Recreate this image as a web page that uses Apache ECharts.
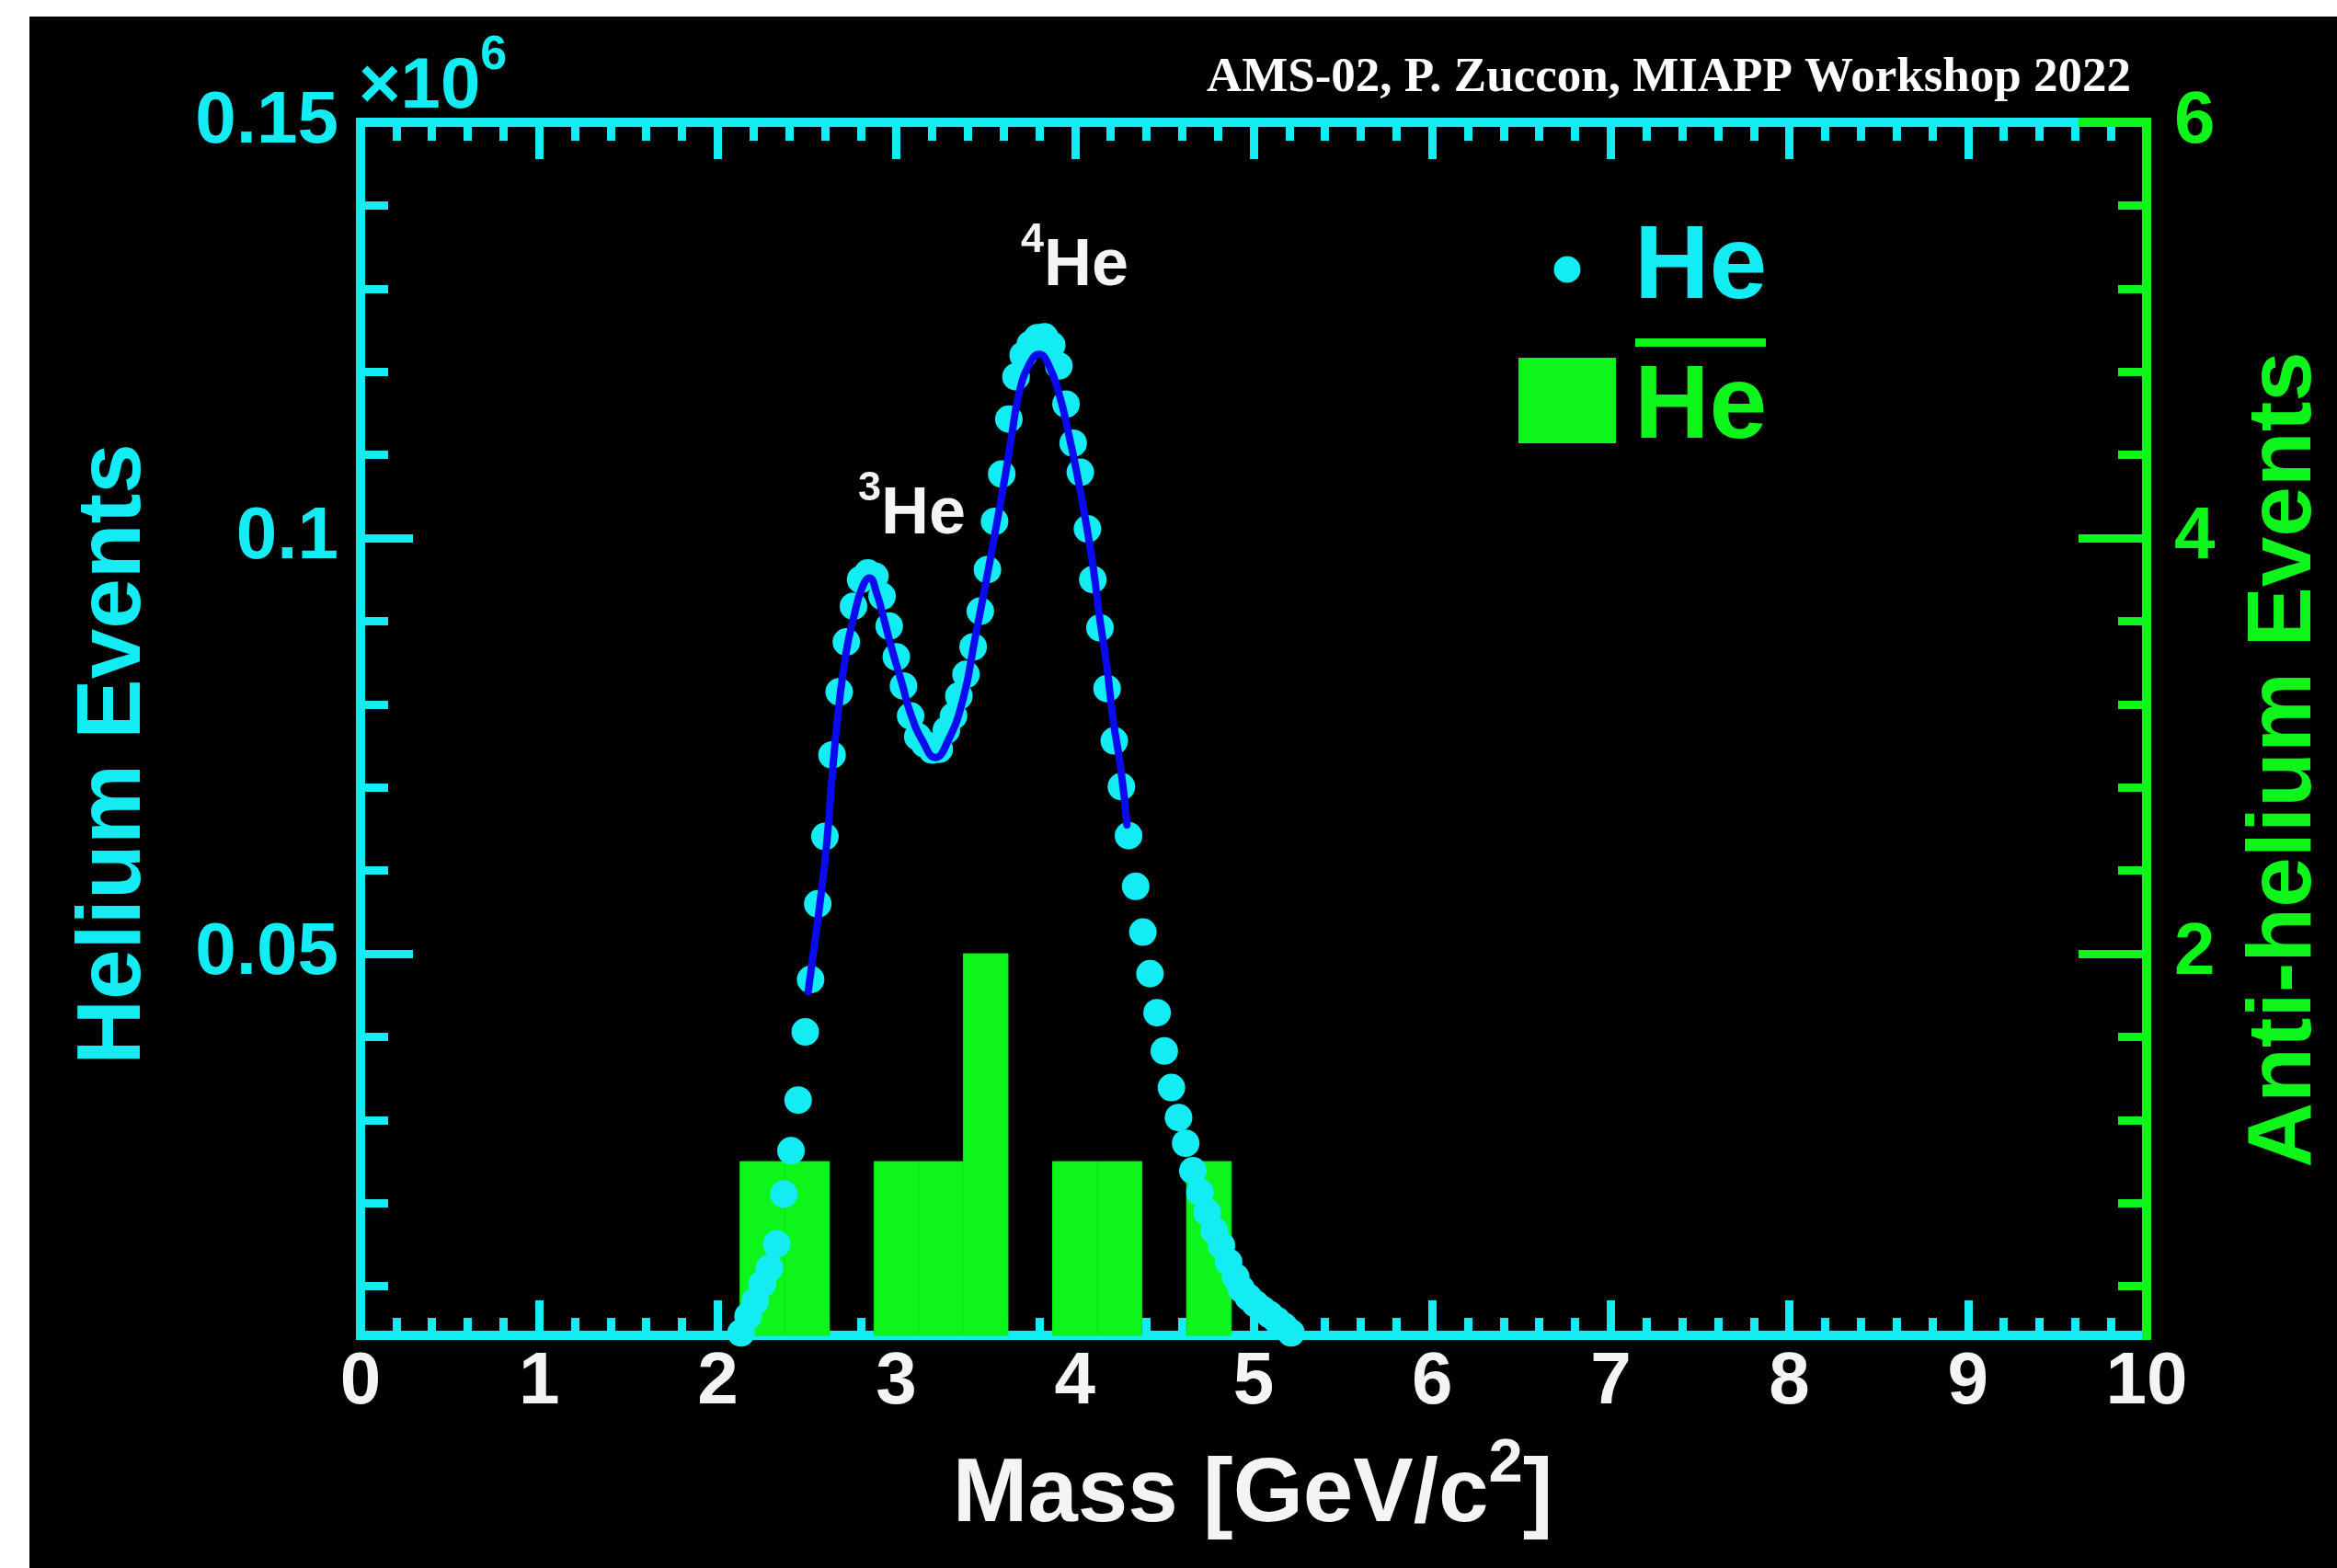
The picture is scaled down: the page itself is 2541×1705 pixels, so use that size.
<!DOCTYPE html>
<html>
<head>
<meta charset="utf-8">
<script src="https://cdn.jsdelivr.net/npm/echarts@6/dist/echarts.min.js"></script>
<style>
  html, body { margin: 0; padding: 0; background: #fff; width: 2541px; height: 1705px; overflow: hidden; }
  #chart { position: absolute; left: 32px; top: 18px; width: 2509px; height: 1687px; background: #000; }
</style>
</head>
<body>
<div id="chart"></div>
<script>
// Helium candidates: reconstructed mass bin centres [GeV/c^2] and counts per bin
const heMass = [
  2.13, 2.17, 2.21, 2.25, 2.29, 2.33, 2.37, 2.41, 2.45, 2.49,
  2.52, 2.56, 2.60, 2.64, 2.68, 2.72, 2.76, 2.80, 2.84, 2.88,
  2.92, 2.96, 3.00, 3.04, 3.08, 3.12, 3.16, 3.20, 3.24, 3.28,
  3.32, 3.35, 3.39, 3.43, 3.47, 3.51, 3.55, 3.59, 3.63, 3.67,
  3.71, 3.75, 3.79, 3.83, 3.87, 3.91, 3.95, 3.99, 4.03, 4.07,
  4.10, 4.14, 4.18, 4.22, 4.26, 4.30, 4.34, 4.38, 4.42, 4.46,
  4.50, 4.54, 4.58, 4.62, 4.66, 4.70, 4.74, 4.78, 4.82, 4.86,
  4.90, 4.93, 4.97, 5.01, 5.05, 5.09, 5.13, 5.17, 5.21
];
const heCounts = [
  4400, 6400, 8200, 10300, 12200, 15100, 21100, 26300, 32400, 40600,
  46900, 56000, 64100, 73900, 81500, 87500, 91800, 95000, 95800, 95400,
  93000, 89400, 85700, 82200, 78600, 76100, 75200, 74500, 74600, 76900,
  78600, 81000, 83600, 86900, 91200, 96200, 102000, 107700, 114300, 119400,
  122000, 123300, 124100, 124200, 123200, 120700, 116100, 111400, 107900, 101100,
  95000, 89200, 81900, 75600, 70100, 64200, 58100, 52600, 47600, 42900,
  38300, 33900, 30300, 27200, 23900, 21300, 18900, 16700, 14900, 12900,
  11100, 9700, 8700, 7900, 7200, 6600, 5900, 5200, 4400
];

// Two-peak fit (3He + 4He) over the central region
const fitMass = [
  2.506, 2.536, 2.566, 2.609, 2.643, 2.678, 2.720, 2.763, 2.806, 2.849,
  2.892, 2.926, 2.978, 3.029, 3.081, 3.149, 3.218, 3.287, 3.373, 3.441,
  3.500, 3.560, 3.616, 3.647, 3.685, 3.742, 3.800, 3.853, 3.913, 3.965,
  4.008, 4.059, 4.102, 4.137, 4.180, 4.214, 4.257, 4.291
];
const fitCounts = [
  45400, 50200, 55000, 63000, 72000, 79700, 86400, 90600, 93900, 95200,
  93200, 90600, 86400, 82700, 78800, 75500, 73600, 75500, 80600, 88000,
  94500, 101500, 108300, 112500, 117200, 120800, 122100, 120800, 117200, 112500,
  108100, 102200, 96500, 90600, 84300, 78100, 72200, 65500
];

// Anti-helium candidates: bin edges [GeV/c^2] and event counts
const antiLow    = [2.125, 2.375, 2.875, 3.125, 3.375, 3.875, 4.125, 4.625];
const antiHigh   = [2.375, 2.625, 3.125, 3.375, 3.625, 4.125, 4.375, 4.875];
const antiCounts = [1, 1, 1, 1, 2, 1, 1, 1];

// Axis ranges and tick positions
const massRange = [0, 10];
const heRange = [4100, 150000];            // events (labels shown in units of 10^6)
const antiRange = [0.164, 6];              // same scale as helium axis: 6 <-> 0.15e6
const heMajorTicks = [50000, 100000, 150000];
const heMinorTicks = [10000, 20000, 30000, 40000, 60000, 70000, 80000, 90000,
                      110000, 120000, 130000, 140000];
const antiMajorTicks = [2, 4, 6];
const antiMinorTicks = [0.4, 0.8, 1.2, 1.6, 2.4, 2.8, 3.2, 3.6, 4.4, 4.8, 5.2, 5.6];

const CYAN = '#14ecf3';
const GREEN = '#0df51a';
const BLUE = '#0a0aef';
const WHITE = '#f4f4f4';
const SANS = '"Liberation Sans", Arial, Helvetica, sans-serif';
const SERIF = '"Liberation Serif", "Times New Roman", serif';

const chart = echarts.init(document.getElementById('chart'), null, { renderer: 'canvas' });

const tickLine = (color, w) => ({ color: color, width: w });

function valueAxisBase(range) {
  return { type: 'value', min: range[0], max: range[1], splitLine: { show: false }, minorSplitLine: { show: false } };
}

const xAxes = [
  Object.assign(valueAxisBase(massRange), {
    position: 'bottom', interval: 1,
    axisLine: { show: true, lineStyle: { color: CYAN, width: 10, cap: 'square' } },
    axisTick: { show: true, inside: true, length: 38, lineStyle: tickLine(CYAN, 9) },
    minorTick: { show: true, splitNumber: 5, length: 19, lineStyle: tickLine(CYAN, 9) },
    axisLabel: { show: true, color: WHITE, fontSize: 80, fontWeight: 'bold', fontFamily: SANS, margin: 12 }
  }),
  Object.assign(valueAxisBase(massRange), {
    position: 'top', interval: 1,
    axisLine: { show: true, lineStyle: { color: CYAN, width: 10, cap: 'square' } },
    axisTick: { show: true, inside: true, length: 40, lineStyle: tickLine(CYAN, 9) },
    minorTick: { show: true, splitNumber: 5, length: 20, lineStyle: tickLine(CYAN, 9) },
    axisLabel: { show: false }
  })
];

const yAxes = [
  Object.assign(valueAxisBase(heRange), {
    position: 'left',
    axisLine: { show: true, lineStyle: { color: CYAN, width: 10, cap: 'square' } },
    axisTick: { show: true, inside: true, length: 57, customValues: heMajorTicks, lineStyle: tickLine(CYAN, 9) },
    axisLabel: {
      show: true, customValues: heMajorTicks, color: CYAN, fontSize: 80, fontWeight: 'bold',
      fontFamily: SANS, margin: 24,
      formatter: v => String(Math.round(v / 1e6 * 100) / 100)
    }
  }),
  Object.assign(valueAxisBase(heRange), {
    position: 'left',
    axisLine: { show: false },
    axisTick: { show: true, inside: true, length: 30, customValues: heMinorTicks, lineStyle: tickLine(CYAN, 9) },
    axisLabel: { show: false }
  }),
  Object.assign(valueAxisBase(antiRange), {
    position: 'right', z: 1,
    axisLine: { show: true, lineStyle: { color: GREEN, width: 10, cap: 'square' } },
    axisTick: { show: true, inside: true, length: 74, customValues: antiMajorTicks, lineStyle: tickLine(GREEN, 9) },
    axisLabel: {
      show: true, customValues: antiMajorTicks, color: GREEN, fontSize: 80, fontWeight: 'bold',
      fontFamily: SANS, margin: 30
    }
  }),
  Object.assign(valueAxisBase(antiRange), {
    position: 'right', z: 1,
    axisLine: { show: false },
    axisTick: { show: true, inside: true, length: 31, customValues: antiMinorTicks, lineStyle: tickLine(GREEN, 9) },
    axisLabel: { show: false }
  })
];

// rich-text helper: main text with a raised, smaller prefix/suffix
function supRich(mainSize, supSize, raise, color) {
  return {
    b: { fontSize: mainSize, fontWeight: 'bold', fontFamily: SANS, fill: color, color: color, verticalAlign: 'middle' },
    s: { fontSize: supSize, fontWeight: 'bold', fontFamily: SANS, fill: color, color: color, verticalAlign: 'middle',
         padding: [0, 0, raise * 2, 0] }
  };
}

function textEl(x, y, text, opts) {
  return {
    type: 'text', x: x, y: y, rotation: opts.rotation || 0, z: 50, silent: true,
    style: Object.assign({
      text: text,
      fill: opts.color,
      fontSize: opts.size, fontWeight: 'bold', fontFamily: opts.family || SANS,
      align: opts.align || 'left', textAlign: opts.align || 'left',
      verticalAlign: 'middle', textVerticalAlign: 'middle'
    }, opts.rich ? { rich: opts.rich } : {})
  };
}

const graphics = [
  // source credit
  textEl(2285, 67, 'AMS-02, P. Zuccon, MIAPP Workshop 2022', { color: '#ffffff', size: 53, family: SERIF, align: 'right' }),
  // exponent of the helium axis
  textEl(358, 77, '{b|×10}{s|6}', { color: CYAN, size: 78, rich: supRich(78, 52, 34, CYAN) }),
  // axis titles
  textEl(93, 802, 'Helium Events', { color: CYAN, size: 98, align: 'center', rotation: Math.PI / 2 }),
  textEl(2453, 808, 'Anti-helium Events', { color: GREEN, size: 98, align: 'center', rotation: Math.PI / 2 }),
  textEl(1330, 1609, '{b|Mass [GeV/c}{s|2}{b|]}', { color: WHITE, size: 98, align: 'center', rich: supRich(98, 67, 34, WHITE) }),
  // isotope peak annotations
  textEl(901, 542, '{s|3}{b|He}', { color: WHITE, size: 72, rich: supRich(72, 45, 28, WHITE) }),
  textEl(1078, 272, '{s|4}{b|He}', { color: WHITE, size: 72, rich: supRich(72, 45, 28, WHITE) }),
  // legend
  { type: 'circle', z: 50, silent: true, shape: { cx: 1672, cy: 275, r: 14.5 }, style: { fill: CYAN } },
  textEl(1745, 275, 'He', { color: CYAN, size: 113 }),
  { type: 'rect', z: 50, silent: true, shape: { x: 1619, y: 371, width: 106, height: 93 }, style: { fill: GREEN } },
  { type: 'rect', z: 50, silent: true, shape: { x: 1746, y: 350, width: 142, height: 9 }, style: { fill: GREEN } },
  textEl(1745, 427, 'He', { color: GREEN, size: 113 }),
  // right-axis frame segment on the top edge and the lower-right corner
  { type: 'rect', z: 50, silent: true, shape: { x: 2230, y: 110, width: 77, height: 10 }, style: { fill: GREEN } },
  { type: 'rect', z: 50, silent: true, shape: { x: 2297, y: 1429, width: 10, height: 10 }, style: { fill: GREEN } }
];

const option = {
  backgroundColor: '#000',
  animation: false,
  grid: { left: 360, right: 207, top: 115, bottom: 253, containLabel: false, outerBoundsMode: 'none' },
  xAxis: xAxes,
  yAxis: yAxes,
  graphic: { elements: graphics },
  series: [
    {
      name: 'anti-He', type: 'custom', xAxisIndex: 0, yAxisIndex: 2, z: 2,
      data: antiLow.map((lo, i) => [lo, antiHigh[i], antiCounts[i]]),
      encode: { x: [0, 1], y: 2 },
      renderItem: function (params, api) {
        const p0 = api.coord([api.value(0), api.value(2)]);
        const p1 = api.coord([api.value(1), antiRange[0]]);
        return {
          type: 'rect',
          shape: { x: p0[0], y: p0[1], width: p1[0] - p0[0], height: p1[1] - p0[1] },
          style: { fill: GREEN, stroke: '#0ce919', lineWidth: 1 }
        };
      }
    },
    {
      name: 'He', type: 'scatter', xAxisIndex: 0, yAxisIndex: 0, z: 3, clip: false,
      symbol: 'circle', symbolSize: 30,
      itemStyle: { color: CYAN, opacity: 1 },
      data: heMass.map((m, i) => [m, heCounts[i]])
    },
    {
      name: 'fit', type: 'line', xAxisIndex: 0, yAxisIndex: 0, z: 4,
      showSymbol: false, symbol: 'none', smooth: 0.5,
      lineStyle: { color: BLUE, width: 8, cap: 'round' },
      data: fitMass.map((m, i) => [m, fitCounts[i]])
    }
  ]
};

chart.setOption(option);
</script>
</body>
</html>
